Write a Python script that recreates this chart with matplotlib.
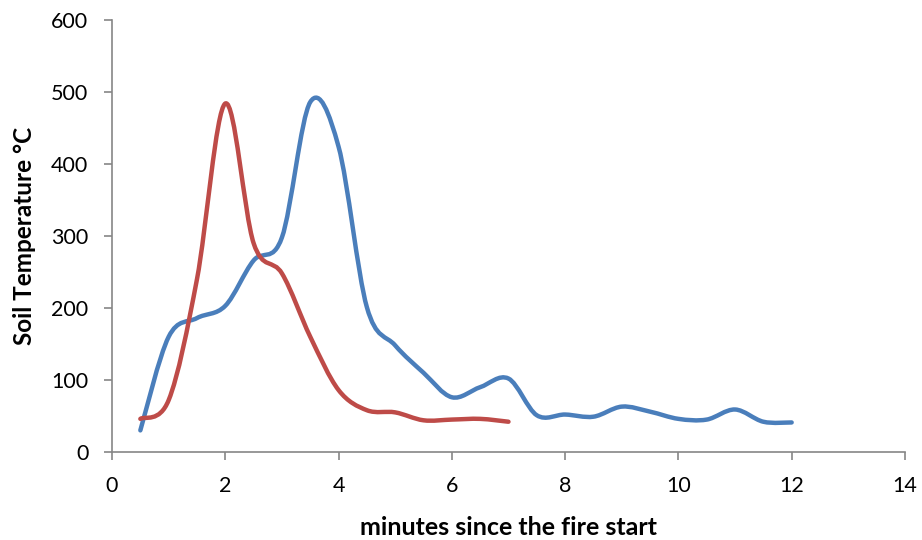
import numpy as np
import matplotlib.pyplot as plt
from matplotlib.path import Path
from matplotlib.patches import PathPatch

plt.rcParams['font.family'] = ['Lato', 'DejaVu Sans']

# minutes since fire start
minutes_blue = [0.5, 1.0, 1.5, 2.0, 2.5, 3.0, 3.5, 4.0, 4.5, 5.0, 5.5, 6.0,
                6.5, 7.0, 7.5, 8.0, 8.5, 9.0, 9.5, 10.0, 10.5, 11.0, 11.5, 12.0]
temp_blue = [30, 160, 186, 203, 266, 298, 486, 424, 201, 148, 110, 76,
             90, 102, 51, 52, 49, 63, 56, 46, 45, 59, 42, 41]

minutes_red = [0.5, 1.0, 1.5, 2.0, 2.5, 3.0, 3.5, 4.0, 4.5, 5.0, 5.5, 6.0, 6.5, 7.0]
temp_red = [46, 72, 240, 484, 290, 248, 160, 86, 58, 55, 44, 45, 46, 42]

blue = '#4A7EBB'
red = '#BE4B48'
axis_grey = '#868686'


def smooth_path(xs, ys):
    """Excel-like smoothed line: cubic Bezier through the points (Catmull-Rom)."""
    pts = np.column_stack([xs, ys]).astype(float)
    n = len(pts)
    verts = [pts[0]]
    codes = [Path.MOVETO]
    for i in range(n - 1):
        p0 = pts[i - 1] if i > 0 else pts[i]
        p1 = pts[i]
        p2 = pts[i + 1]
        p3 = pts[i + 2] if i + 2 < n else pts[i + 1]
        c1 = p1 + (p2 - p0) / 6.0
        c2 = p2 - (p3 - p1) / 6.0
        verts += [c1, c2, p2]
        codes += [Path.CURVE4] * 3
    return Path(verts, codes)


fig = plt.figure(figsize=(9.22, 5.4), dpi=100)
ax = fig.add_axes([0.1215, 0.163, 0.86, 0.8])

for xs, ys, c in [(minutes_blue, temp_blue, blue), (minutes_red, temp_red, red)]:
    patch = PathPatch(smooth_path(xs, ys), facecolor='none', edgecolor=c,
                      linewidth=3.2, capstyle='round', joinstyle='round')
    ax.add_patch(patch)

ax.set_xlim(0, 14)
ax.set_ylim(0, 600)
ax.set_xticks(range(0, 15, 2))
ax.set_yticks(range(0, 601, 100))

for side in ['top', 'right']:
    ax.spines[side].set_visible(False)
for side in ['left', 'bottom']:
    ax.spines[side].set_color(axis_grey)
    ax.spines[side].set_linewidth(1.2)

ax.tick_params(axis='both', direction='out', length=6, width=1.2,
               color=axis_grey, labelsize=15.5, labelcolor='black')
ax.tick_params(axis='x', pad=11)
ax.tick_params(axis='y', pad=11)

ax.set_xlabel('minutes since the fire start', fontsize=18, fontweight='bold', labelpad=15)
ax.set_ylabel('Soil Temperature °C', fontsize=17.5, fontweight='bold', labelpad=11)

fig.savefig('out.png', dpi=100)
